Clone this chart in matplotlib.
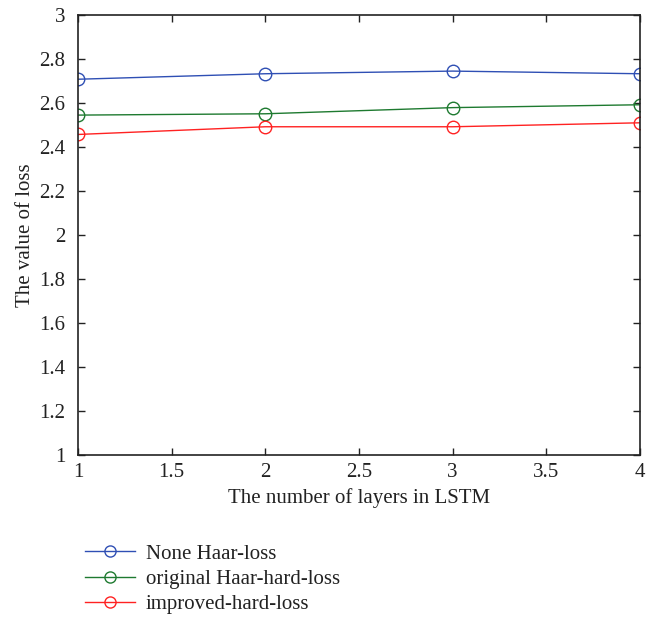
import matplotlib
matplotlib.use("Agg")
import matplotlib.pyplot as plt

layers = [1, 2, 3, 4]
none_haar = [2.708, 2.733, 2.745, 2.733]
orig_haar = [2.545, 2.551, 2.579, 2.592]
improved = [2.457, 2.492, 2.492, 2.510]
labels = ["None Haar-loss", "original Haar-hard-loss", "improved-hard-loss"]
colors = ["#2f4fb4", "#1e7a30", "#ff2222"]

plt.rcParams['font.family'] = ['Liberation Serif', 'DejaVu Serif']
fig = plt.figure(figsize=(6.54, 6.18), dpi=100)
ax = fig.add_axes([78/654, 1-455/618, (640-78)/654, (455-15)/618])

for ys, c, lab in zip([none_haar, orig_haar, improved], colors, labels):
    ax.plot(layers, ys, color=c, lw=1.0, marker='o', ms=9, mfc='none', mec=c, mew=1.0, label=lab)

ax.set_xlim(1, 4)
ax.set_ylim(1, 3)
ax.set_xticks([1, 1.5, 2, 2.5, 3, 3.5, 4])
ax.set_xticklabels(['1', '1.5', '2', '2.5', '3', '3.5', '4'])
ax.set_yticks([1, 1.2, 1.4, 1.6, 1.8, 2, 2.2, 2.4, 2.6, 2.8, 3])
ax.set_yticklabels(['1', '1.2', '1.4', '1.6', '1.8', '2', '2.2', '2.4', '2.6', '2.8', '3'])
ax.tick_params(direction='in', top=True, right=True, labelsize=15, length=5, width=1, colors='#222222')
ax.tick_params(axis='x', pad=6)
ax.tick_params(axis='y', pad=9)
for s in ax.spines.values():
    s.set_linewidth(1.2)
    s.set_color('#222222')
ax.set_xlabel("The number of layers in LSTM", fontsize=15, labelpad=4, color='#222222')
ax.set_ylabel("The value of loss", fontsize=15, labelpad=3, color='#222222')

leg = fig.legend(loc='upper left', bbox_to_anchor=(81/654, 1-540/618), frameon=False,
                 fontsize=15, handlelength=2.4, labelspacing=0.27, handletextpad=0.5,
                 borderaxespad=0, borderpad=0.2)
for t in leg.get_texts():
    t.set_color('#222222')
for h in leg.legend_handles:
    h.set_markersize(8)

fig.savefig("out.png", dpi=100)
